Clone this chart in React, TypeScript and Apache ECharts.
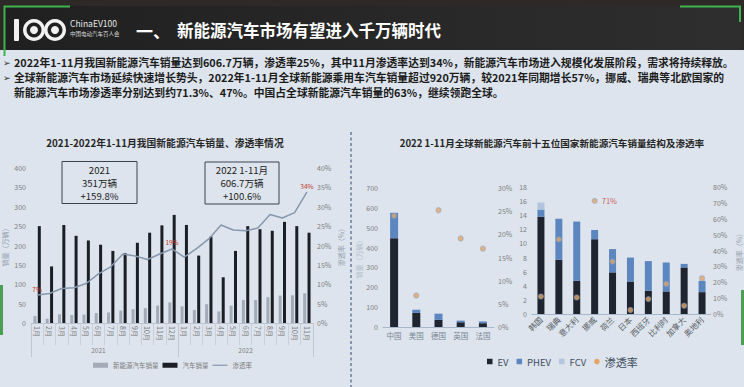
import React, { useEffect, useRef } from 'react';
import * as echarts from 'echarts';

// ---------- text content ----------
const headerNo = '一、';
const headerTitle = '新能源汽车市场有望进入千万辆时代';
const logoEn = 'ChinaEV100';
const logoCn = '中国电动汽车百人会';
const bulletLines = [
  '2022年1-11月我国新能源汽车销量达到606.7万辆，渗透率25%，其中11月渗透率达到34%，新能源汽车市场进入规模化发展阶段，需求将持续释放。',
  '全球新能源汽车市场延续快速增长势头，2022年1-11月全球新能源乘用车汽车销量超过920万辆，较2021年同期增长57%，挪威、瑞典等北欧国家的',
  '新能源汽车市场渗透率分别达到约71.3%、47%。中国占全球新能源汽车销量的63%，继续领跑全球。',
];
const leftTitle = '2021-2022年1-11月我国新能源汽车销量、渗透率情况';
const rightTitle = '2022 1-11月全球新能源汽车前十五位国家新能源汽车销量结构及渗透率';
const box2021 = ['2021', '351万辆', '+159.8%'];
const box2022 = ['2022 1-11月', '606.7万辆', '+100.6%'];

// ---------- left chart data ----------
const months2021 = ['1月', '2月', '3月', '4月', '5月', '6月', '7月', '8月', '9月', '10月', '11月', '12月'];
const months2022 = ['1月', '2月', '3月', '4月', '5月', '6月', '7月', '8月', '9月', '10月', '11月'];
const years = ['2021', '2022'];
const carSales2021 = [250, 146, 253, 225, 213, 202, 186, 180, 207, 233, 252, 279];
const carSales2022 = [253, 174, 223, 118, 186, 250, 242, 238, 261, 250, 233];
const nevSales2021 = [17.9, 11, 22.6, 20.6, 21.7, 25.6, 27.1, 32.1, 35.7, 38.3, 45, 53.1];
const nevSales2022 = [43.1, 33.4, 48.4, 29.9, 44.7, 59.6, 59.3, 66.6, 70.8, 71.4, 76.8];
const penetration2021 = [7.2, 7.6, 8.9, 9.1, 10.2, 12.7, 14.5, 17.8, 17.3, 16.4, 17.8, 19.1];
const penetration2022 = [17.0, 19.2, 21.7, 25.3, 24.0, 23.8, 24.5, 28.0, 27.1, 28.5, 33.8];
const labelledPoints = [0, 11, 22];

// ---------- right charts data ----------
const countriesTop5 = ['中国', '美国', '德国', '英国', '法国'];
const evTop5 = [447, 71, 36, 24, 19];
const phevTop5 = [128, 16, 31, 8, 9];
const fcvTop5 = [0, 1, 0, 0, 0];
const penTop5 = [24, 6.8, 25.2, 19.1, 16.9];

const countriesNext10 = ['韩国', '瑞典', '意大利', '挪威', '荷兰', '日本', '西班牙', '比利时', '加拿大', '奥地利'];
const evNext10 = [13.8, 7.7, 4.7, 10.6, 5.9, 4.6, 3.3, 3.2, 6.6, 3.1];
const phevNext10 = [1.0, 5.8, 8.4, 1.3, 3.3, 3.4, 4.2, 4.1, 0.5, 1.6];
const fcvNext10 = [1.0, 0, 0, 0, 0, 0, 0, 0, 0, 0];
const penNext10 = [11, 47, 10.4, 71.3, 33, 2.5, 9.4, 19, 5.2, 22.5];
const labelledCountries = ['挪威'];

const FONT = '"Noto Sans CJK SC", "Noto Sans", sans-serif';

export default function App() {
  const ref = useRef<HTMLDivElement>(null);

  useEffect(() => {
    document.body.style.margin = '0';
    const chart = echarts.init(ref.current!, null, { renderer: 'svg' });

    const months = [...months2021, ...months2022];
    const yearGroups = [...months2021.map(() => years[0]), ...months2022.map(() => years[1])];
    const yearBoundaries = [0, months2021.length];
    const yearLabelIdx = [Math.floor((months2021.length - 1) / 2), months2021.length + Math.floor((months2022.length - 1) / 2)];
    const carSales = [...carSales2021, ...carSales2022];
    const nevSales = [...nevSales2021, ...nevSales2022];
    const penetration = [...penetration2021, ...penetration2022];

    const axisLabelGray = '#7d7d7d';
    const red = '#c0392b';
    const dotColor = '#e4a665';
    const lineColor = '#8797ad';

    const textEl = (x: number, y: number, text: string, size: number, fill: string, weight: any = 'normal', align = 'left') => ({
      type: 'text',
      style: { x, y, text, fontSize: size, fontWeight: weight, fill, fontFamily: FONT, align, verticalAlign: 'middle' },
    });

    const boxLines = (cx: number, y0: number, lines: string[]) =>
      lines.map((t, i) => textEl(cx, y0 + i * 13, t, 9.6, '#222222', 'normal', 'center'));

    const graphics: any[] = [
      // dark surroundings + header
      { type: 'rect', shape: { x: 0, y: 0, width: 744, height: 6 }, style: { fill: '#2c2926' } },
      { type: 'rect', shape: { x: 0, y: 0, width: 4, height: 50 }, style: { fill: '#2c2926' } },
      { type: 'rect', shape: { x: 741, y: 0, width: 3, height: 50 }, style: { fill: '#2c2926' } },
      {
        type: 'rect',
        shape: { x: 4, y: 6, width: 737, height: 44 },
        style: {
          fill: new echarts.graphic.LinearGradient(0, 0, 1, 0, [
            { offset: 0, color: '#202020' },
            { offset: 1, color: '#2e2e2e' },
          ]),
        },
      },
      { type: 'polyline', shape: { points: [[4.5, 56], [4.5, 6.5], [70, 6.5]] }, style: { stroke: '#3fb34f', lineWidth: 2, fill: 'none' } },
      { type: 'polyline', shape: { points: [[680, 6.5], [740, 6.5], [740, 22]] }, style: { stroke: '#3fb34f', lineWidth: 2, fill: 'none' } },
      { type: 'rect', shape: { x: 0, y: 285, width: 3, height: 50 }, style: { fill: '#4c9f52' } },
      { type: 'rect', shape: { x: 741, y: 290, width: 3, height: 55 }, style: { fill: '#4c9f52' } },
      // logo
      { type: 'rect', shape: { x: 14, y: 19, width: 5, height: 22, r: 1 }, style: { fill: '#f2f2f2' } },
      { type: 'ring', shape: { cx: 34, cy: 30, r: 11, r0: 7.5 }, style: { fill: '#f2f2f2' } },
      { type: 'ring', shape: { cx: 55, cy: 30, r: 11, r0: 7.5 }, style: { fill: '#f2f2f2' } },
      { type: 'circle', shape: { cx: 34, cy: 30, r: 4 }, style: { fill: '#f2f2f2' } },
      { type: 'circle', shape: { cx: 55, cy: 30, r: 4 }, style: { fill: '#f2f2f2' } },
      textEl(70, 23, logoEn, 8.5, '#e6e6e6'),
      textEl(70, 34, logoCn, 5.5, '#d8d8d8'),
      textEl(136, 30, headerNo, 17, '#ffffff', 'bold'),
      textEl(177, 30, headerTitle, 16.5, '#ffffff', 'bold'),
      // bullets
      textEl(3, 62, '➢', 9, '#333333'),
      textEl(3, 77, '➢', 9, '#333333'),
      textEl(14, 62, bulletLines[0], 10.8, '#1c1c1c', 'bold'),
      textEl(14, 77, bulletLines[1], 10.8, '#1c1c1c', 'bold'),
      textEl(14, 92, bulletLines[2], 10.8, '#1c1c1c', 'bold'),
      // chart titles
      textEl(165, 143, leftTitle, 9.8, '#262626', 'bold', 'center'),
      textEl(552, 143, rightTitle, 9.6, '#262626', 'bold', 'center'),
      // divider
      { type: 'line', shape: { x1: 351, y1: 132, x2: 351, y2: 387 }, style: { stroke: '#4f607f', lineWidth: 1.2, lineDash: [3, 2.5] } },
      // annotation boxes
      { type: 'rect', shape: { x: 62, y: 161.5, width: 75, height: 42 }, style: { fill: 'none', stroke: '#3b4350', lineWidth: 1 } },
      ...boxLines(99.5, 169.5, box2021),
      { type: 'rect', shape: { x: 205, y: 162, width: 74, height: 42 }, style: { fill: 'none', stroke: '#3b4350', lineWidth: 1 } },
      ...boxLines(242, 170, box2022),
    ];

    const hiddenAxis = { axisLine: { show: false }, axisTick: { show: false }, splitLine: { show: false } };
    const nameStyle = { fontSize: 7, color: '#95a0ae', fontFamily: FONT };

    const option: any = {
      animation: false,
      backgroundColor: '#dde4ed',
      textStyle: { fontFamily: FONT },
      graphic: { elements: graphics },
      grid: [
        { left: 28, top: 168, width: 285, height: 155 },
        { left: 383, top: 188, width: 111, height: 139 },
        { left: 532, top: 187, width: 179, height: 127 },
      ],
      legend: [
        {
          left: 88,
          top: 357,
          itemWidth: 15,
          itemHeight: 5,
          itemGap: 4,
          textStyle: { fontSize: 6.5, color: axisLabelGray },
          data: [
            { name: '新能源汽车销量', icon: 'rect' },
            { name: '汽车销量', icon: 'rect' },
            { name: '渗透率', icon: 'path://M0 0H20V1.6H0Z', itemStyle: { color: lineColor } },
          ],
        },
        {
          left: 482,
          top: 351,
          itemWidth: 5.5,
          itemHeight: 5.5,
          itemGap: 8,
          textStyle: { fontSize: 9.5, color: '#3f4e60' },
          data: [
            { name: 'EV', icon: 'rect' },
            { name: 'PHEV', icon: 'rect' },
            { name: 'FCV', icon: 'rect' },
            { name: '渗透率', icon: 'circle', itemStyle: { color: dotColor }, textStyle: { fontSize: 11 } },
          ],
        },
      ],
      xAxis: [
        {
          type: 'category',
          gridIndex: 0,
          data: months,
          axisLine: { lineStyle: { color: '#b9c1cc' } },
          axisTick: { show: true, length: 22, lineStyle: { color: '#c8cfd8' } },
          axisLabel: { rotate: -90, fontSize: 7, color: axisLabelGray, margin: 3, interval: 0 },
        },
        {
          type: 'category',
          gridIndex: 0,
          position: 'bottom',
          offset: 0,
          data: yearGroups,
          axisLine: { show: false },
          axisTick: { show: true, length: 34, interval: (i: number) => yearBoundaries.includes(i), lineStyle: { color: '#c0c7d1' } },
          axisLabel: { interval: (i: number) => yearLabelIdx.includes(i), fontSize: 6.5, color: axisLabelGray, margin: 24 },
        },
        {
          type: 'category',
          gridIndex: 1,
          data: countriesTop5,
          axisLine: { lineStyle: { color: '#a6b7cc' } },
          axisTick: { show: false },
          axisLabel: { fontSize: 7.5, color: '#7a8594', margin: 5, interval: 0 },
        },
        {
          type: 'category',
          gridIndex: 2,
          data: countriesNext10,
          axisLine: { lineStyle: { color: '#a6b7cc' } },
          axisTick: { show: false },
          axisLabel: { fontSize: 8, color: '#5a5f66', margin: 4, rotate: 45, interval: 0 },
        },
      ],
      yAxis: [
        {
          type: 'value', gridIndex: 0, min: 0, max: 400, interval: 50, ...hiddenAxis,
          axisLabel: { fontSize: 7, color: axisLabelGray, margin: 5 },
          name: '销量（万辆）', nameLocation: 'middle', nameGap: 23, nameTextStyle: nameStyle,
        },
        {
          type: 'value', gridIndex: 0, min: 0, max: 40, interval: 5, position: 'right', ...hiddenAxis,
          axisLabel: { fontSize: 7, color: axisLabelGray, margin: 4, formatter: '{value}%' },
          name: '渗透率（%）', nameLocation: 'middle', nameGap: 24, nameTextStyle: nameStyle,
        },
        {
          type: 'value', gridIndex: 1, min: 0, max: 700, interval: 100, ...hiddenAxis,
          axisLabel: { fontSize: 7, color: axisLabelGray, margin: 5 },
          name: '销量（万辆）', nameLocation: 'middle', nameGap: 21, nameTextStyle: { ...nameStyle, color: '#b3bdc9' },
        },
        {
          type: 'value', gridIndex: 1, min: 0, max: 30, interval: 5, position: 'right', ...hiddenAxis,
          axisLabel: { fontSize: 7, color: axisLabelGray, margin: 4, formatter: '{value}%' },
        },
        {
          type: 'value', gridIndex: 2, min: 0, max: 18, interval: 2, ...hiddenAxis,
          axisLabel: { fontSize: 7, color: axisLabelGray, margin: 5 },
        },
        {
          type: 'value', gridIndex: 2, min: 0, max: 80, interval: 10, position: 'right', ...hiddenAxis,
          axisLabel: { fontSize: 7, color: axisLabelGray, margin: 2, formatter: '{value}%' },
          name: '渗透率（%）', nameLocation: 'middle', nameGap: 24, nameTextStyle: nameStyle,
        },
      ],
      series: [
        {
          name: '新能源汽车销量', type: 'bar', xAxisIndex: 0, yAxisIndex: 0, data: nevSales,
          barWidth: 3, barGap: '45%', itemStyle: { color: '#a3abb8' },
        },
        {
          name: '汽车销量', type: 'bar', xAxisIndex: 0, yAxisIndex: 0, data: carSales,
          barWidth: 3, barGap: '45%', itemStyle: { color: '#1b1e25' },
        },
        {
          name: '渗透率', type: 'line', xAxisIndex: 0, yAxisIndex: 1, data: penetration,
          showSymbol: true, symbol: 'circle', symbolSize: 0.5, z: 5,
          lineStyle: { width: 1.5, color: lineColor }, itemStyle: { color: lineColor },
          label: {
            show: true, position: 'top', distance: 3, fontSize: 6.5, color: red,
            formatter: (p: any) => (labelledPoints.includes(p.dataIndex) ? Math.round(p.value) + '%' : ''),
          },
        },
        { name: 'EV', type: 'bar', xAxisIndex: 2, yAxisIndex: 2, stack: 'top5', data: evTop5, barWidth: 8, itemStyle: { color: '#1e2430' } },
        { name: 'PHEV', type: 'bar', xAxisIndex: 2, yAxisIndex: 2, stack: 'top5', data: phevTop5, barWidth: 8, itemStyle: { color: '#5b86bf' } },
        { name: 'FCV', type: 'bar', xAxisIndex: 2, yAxisIndex: 2, stack: 'top5', data: fcvTop5, barWidth: 8, itemStyle: { color: '#b3c5dc' } },
        {
          name: '渗透率', type: 'scatter', xAxisIndex: 2, yAxisIndex: 3, data: penTop5, symbolSize: 5, z: 6,
          itemStyle: { color: dotColor, borderColor: 'rgba(150,160,176,0.7)', borderWidth: 1.2 },
        },
        { name: 'EV', type: 'bar', xAxisIndex: 3, yAxisIndex: 4, stack: 'next10', data: evNext10, barWidth: 7, itemStyle: { color: '#1e2430' } },
        { name: 'PHEV', type: 'bar', xAxisIndex: 3, yAxisIndex: 4, stack: 'next10', data: phevNext10, barWidth: 7, itemStyle: { color: '#5b86bf' } },
        { name: 'FCV', type: 'bar', xAxisIndex: 3, yAxisIndex: 4, stack: 'next10', data: fcvNext10, barWidth: 7, itemStyle: { color: '#b3c5dc' } },
        {
          name: '渗透率', type: 'scatter', xAxisIndex: 3, yAxisIndex: 5, data: penNext10, symbolSize: 5, z: 6,
          itemStyle: { color: dotColor, borderColor: 'rgba(150,160,176,0.7)', borderWidth: 1.2 },
          label: {
            show: true, position: 'right', distance: 4, fontSize: 7.5, color: red,
            formatter: (p: any) => (labelledCountries.includes(p.name) ? Math.round(p.value) + '%' : ''),
          },
        },
      ],
    };

    chart.setOption(option);
    return () => chart.dispose();
  }, []);

  return <div ref={ref} style={{ width: 744, height: 387 }} />;
}
